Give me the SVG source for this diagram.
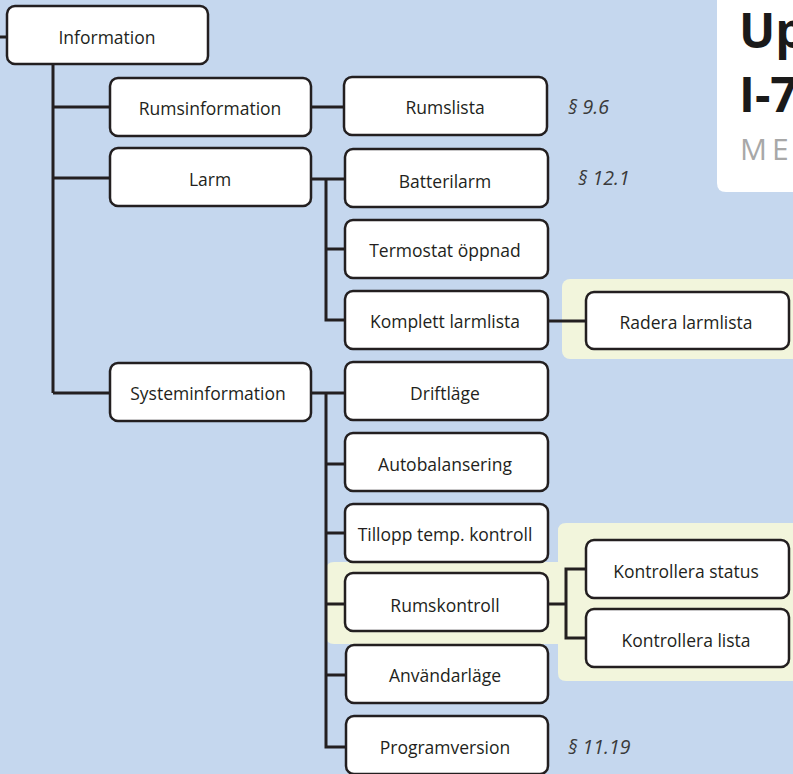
<svg xmlns="http://www.w3.org/2000/svg" width="793" height="774" viewBox="0 0 793 774">
<style>
.node rect{fill:#fff;stroke:#231f20;stroke-width:2.5}
.node text{font-family:"Open Sans","Liberation Sans",Arial,sans-serif;font-size:17.5px;fill:#231f20;text-anchor:middle;dominant-baseline:central}
.conn path{fill:none;stroke:#231f20;stroke-width:3}
.ref{font-family:"Open Sans","Liberation Sans",Arial,sans-serif;font-size:19.5px;font-style:italic;fill:#3a3a3a}
.hl{fill:#f2f5dc}
</style>
<rect width="793" height="774" fill="#c5d7ee"/>
<g id="title">
<path d="M717 0 H793 V192 H726 Q717 192 717 183 Z" fill="#fff"/>
<text x="739" y="48" font-family="Open Sans,Liberation Sans,sans-serif" font-weight="bold" font-size="48" fill="#1a1a1a">Up</text>
<text x="739" y="112" font-family="Open Sans,Liberation Sans,sans-serif" font-weight="bold" font-size="48" fill="#1a1a1a">I-7</text>
<text x="740" y="160" font-family="Open Sans,Liberation Sans,sans-serif" font-size="30" letter-spacing="5" fill="#a8a8a8">ME</text>
</g>
<g id="highlights">
<rect class="hl" x="562" y="279" width="240" height="80" rx="8"/>
<path class="hl" d="M566 523 H793 V681 H566 Q558 681 558 673 V644 H334 Q326 644 326 636 V570 Q326 562 334 562 H558 V531 Q558 523 566 523 Z"/>
</g>
<g class="conn" id="connectors">
<path d="M0 37 H8"/>
<path d="M53 64 V393 M53 107 H110 M53 178 H110 M53 393 H110"/>
<path d="M311 107 H344"/>
<path d="M311 179 H345 M326 179 V320 H345 M326 249 H345"/>
<path d="M548 321 H586"/>
<path d="M311 393 H345 M326 393 V747 H346 M326 464 H345 M326 533 H345 M326 604 H345 M326 675 H346"/>
<path d="M548 604 H566 M586 569 H566 V638 H586"/>
</g>
<g class="node" id="n-information"><rect x="7" y="6" width="201" height="58" rx="8"/><text x="107" y="37">Information</text></g>
<g class="node" id="n-rumsinformation"><rect x="110" y="78" width="201" height="58" rx="8"/><text x="210" y="108">Rumsinformation</text></g>
<g class="node" id="n-rumslista"><rect x="344" y="77" width="203" height="58" rx="8"/><text x="445" y="107">Rumslista</text></g>
<g class="node" id="n-larm"><rect x="110" y="148" width="201" height="58" rx="8"/><text x="210" y="179">Larm</text></g>
<g class="node" id="n-batterilarm"><rect x="345" y="149" width="203" height="58" rx="8"/><text x="445" y="181">Batterilarm</text></g>
<g class="node" id="n-termostat"><rect x="345" y="220" width="203" height="58" rx="8"/><text x="445" y="250">Termostat öppnad</text></g>
<g class="node" id="n-komplett"><rect x="345" y="291" width="203" height="58" rx="8"/><text x="445" y="321">Komplett larmlista</text></g>
<g class="node" id="n-radera"><rect x="586" y="292" width="203" height="57" rx="8"/><text x="686" y="322">Radera larmlista</text></g>
<g class="node" id="n-systeminformation"><rect x="110" y="363" width="201" height="58" rx="8"/><text x="208" y="393">Systeminformation</text></g>
<g class="node" id="n-driftlage"><rect x="345" y="362" width="203" height="58" rx="8"/><text x="445" y="393">Driftläge</text></g>
<g class="node" id="n-autobalansering"><rect x="345" y="433" width="203" height="58" rx="8"/><text x="445" y="464">Autobalansering</text></g>
<g class="node" id="n-tillopp"><rect x="345" y="504" width="203" height="58" rx="8"/><text x="445" y="534">Tillopp temp. kontroll</text></g>
<g class="node" id="n-rumskontroll"><rect x="345" y="573" width="203" height="58" rx="8"/><text x="445" y="605">Rumskontroll</text></g>
<g class="node" id="n-anvandarlage"><rect x="346" y="645" width="202" height="58" rx="8"/><text x="445" y="675">Användarläge</text></g>
<g class="node" id="n-programversion"><rect x="346" y="716" width="202" height="58" rx="8"/><text x="445" y="747">Programversion</text></g>
<g class="node" id="n-kstatus"><rect x="586" y="540" width="203" height="58" rx="8"/><text x="686" y="571">Kontrollera status</text></g>
<g class="node" id="n-klista"><rect x="586" y="609" width="203" height="58" rx="8"/><text x="686" y="640">Kontrollera lista</text></g>
<g id="refs">
<text class="ref" x="568" y="114">§ 9.6</text>
<text class="ref" x="578" y="185">§ 12.1</text>
<text class="ref" x="568" y="754">§ 11.19</text>
</g>
</svg>
